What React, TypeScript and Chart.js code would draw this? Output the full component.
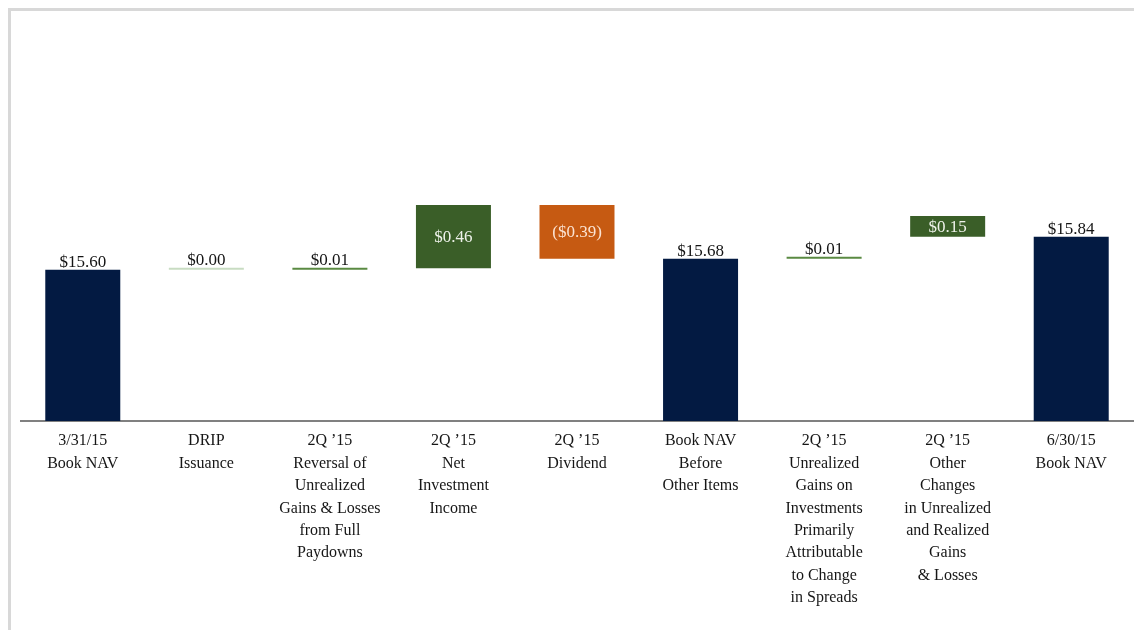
import React, { useEffect, useRef } from "react";
import { Chart, registerables } from "chart.js";

Chart.register(...registerables);

// ---- data ----
const categories: string[][] = [
  ["3/31/15", "Book NAV"],
  ["DRIP", "Issuance"],
  ["2Q \u201915", "Reversal of", "Unrealized", "Gains & Losses", "from Full", "Paydowns"],
  ["2Q \u201915", "Net", "Investment", "Income"],
  ["2Q \u201915", "Dividend"],
  ["Book NAV", "Before", "Other Items"],
  ["2Q \u201915", "Unrealized", "Gains on", "Investments", "Primarily", "Attributable", "to Change", "in Spreads"],
  ["2Q \u201915", "Other", "Changes", "in Unrealized", "and Realized", "Gains", "& Losses"],
  ["6/30/15", "Book NAV"],
];

const valueLabels = ["$15.60", "$0.00", "$0.01", "$0.46", "($0.39)", "$15.68", "$0.01", "$0.15", "$15.84"];

const Y_MIN = 14.5;
const Y_MAX = 17.4;

const barStart = [Y_MIN, 15.6, 15.6, 15.61, 16.07, Y_MIN, 15.68, 15.84, Y_MIN];
const barEnd = [15.6, 15.6, 15.61, 16.07, 15.68, 15.68, 15.69, 15.99, 15.84];

const barKinds = ["total", "flat", "small", "gain", "loss", "total", "small", "gain", "total"];

const kindColors: Record<string, string> = {
  total: "#031a42",
  flat: "#c8dcc2",
  small: "#5a8a42",
  gain: "#3a5e28",
  loss: "#c65a12",
};

const insideTextColors: Record<string, string> = {
  gain: "#eef2ea",
  loss: "#fbe3d2",
};

const FONT = "'Liberation Serif', 'Times New Roman', serif";

const valueLabelPlugin = {
  id: "valueLabels",
  afterDatasetsDraw(chart: any) {
    const ctx = chart.ctx;
    const meta = chart.getDatasetMeta(0);
    ctx.save();
    ctx.font = `17px ${FONT}`;
    ctx.textAlign = "center";
    meta.data.forEach((el: any, i: number) => {
      const top = Math.min(el.y, el.base);
      const bottom = Math.max(el.y, el.base);
      const kind = barKinds[i];
      const inside = (kind === "gain" || kind === "loss") && bottom - top > 14;
      if (inside) {
        ctx.fillStyle = insideTextColors[kind];
        ctx.textBaseline = "middle";
        ctx.fillText(valueLabels[i], el.x, (top + bottom) / 2 + 1);
      } else {
        ctx.fillStyle = "#141414";
        ctx.textBaseline = "alphabetic";
        ctx.fillText(valueLabels[i], el.x, top - 3);
      }
    });
    ctx.restore();
  },
};

export default function App() {
  const canvasRef = useRef<HTMLCanvasElement | null>(null);

  useEffect(() => {
    if (!canvasRef.current) return;
    const chart = new Chart(canvasRef.current, {
      type: "bar",
      data: {
        labels: categories,
        datasets: [
          {
            data: barStart.map((s, i) => [s, barEnd[i]]),
            backgroundColor: barKinds.map((k) => kindColors[k]),
            borderWidth: 0,
            barPercentage: 0.607,
            categoryPercentage: 1,
            minBarLength: 2,
          },
        ],
      },
      options: {
        responsive: false,
        maintainAspectRatio: false,
        animation: false,
        layout: { padding: { left: 10, right: 1, top: 11, bottom: 0 } },
        plugins: {
          legend: { display: false },
          tooltip: { enabled: false },
          title: { display: false },
        },
        scales: {
          x: {
            grid: { display: false, drawTicks: false },
            border: { display: true, color: "#808080", width: 2 },
            ticks: {
              color: "#161616",
              font: { family: FONT, size: 16, lineHeight: 1.4 },
              padding: 9,
              maxRotation: 0,
              autoSkip: false,
            },
            afterFit: (scale: any) => {
              scale.height = 209;
            },
          },
          y: {
            display: false,
            min: Y_MIN,
            max: Y_MAX,
          },
        },
      },
      plugins: [valueLabelPlugin],
    });
    return () => chart.destroy();
  }, []);

  return (
    <div
      style={{
        position: "fixed",
        left: 8,
        top: 8,
        width: 1126,
        height: 622,
        borderTop: "3px solid #d8d8d8",
        borderLeft: "3px solid #d8d8d8",
        boxSizing: "border-box",
        background: "#ffffff",
      }}
    >
      <canvas ref={canvasRef} width={1123} height={619} style={{ display: "block" }} />
    </div>
  );
}
